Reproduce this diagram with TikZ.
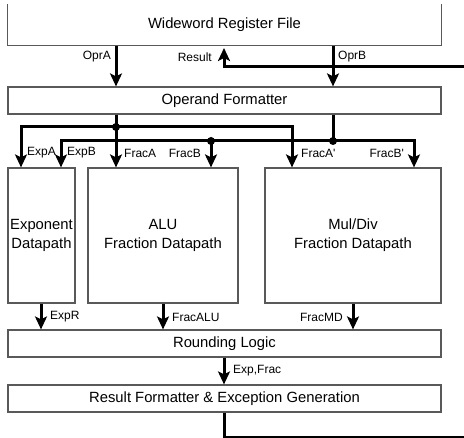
\documentclass[tikz,border=0pt]{standalone}
\usepackage{fontspec}
\setmainfont{Liberation Sans}
\usetikzlibrary{arrows.meta}
\tikzset{
	% Boxes of the datapath, thick buses and their labels
	block/.style={draw=black!65,line width=1.2pt,inner sep=0pt,align=center,font=\fontsize{14.8}{19}\selectfont},
	frame/.style={draw=black!65,line width=1.2pt},
	bus/.style={line width=3pt},
	to box/.style={bus,-{Stealth[length=13pt,width=12pt,inset=3pt]}},
	sig/.style={inner sep=0pt,font=\fontsize{12}{14}\selectfont},
	junction/.style={circle,fill=black,inner sep=0pt,minimum size=8pt}
}
\begin{document}
\begin{tikzpicture}[x=1pt,y=-1pt]
	% macro for the bus labels
	\newcommand{\wirelabel}[4][west]{\node[sig,anchor=#1](#2)at(#3){#4};}
	\useasboundingbox (0,0) rectangle (464,438);
	
	% columns and rows of the buses
	\coordinate (colA) at (116,0);
	\coordinate (colB) at (333,0);
	\coordinate (colR) at (224,0);
	\coordinate (colEA) at (21,0);
	\coordinate (colEB) at (61,0);
	\coordinate (colFB) at (211,0);
	\coordinate (colFA2) at (292,0);
	\coordinate (colFB2) at (414,0);
	\coordinate (rowA) at (0,127);
	\coordinate (rowB) at (0,141);
	\coordinate (resTip) at (224,48);
	\coordinate (retIn) at (464,67);
	\coordinate (retOut) at (464,437.5);
	
	% blocks
	\node[block,draw=none,minimum width=433pt,minimum height=40pt] (reg) at (224.5,25) {Wideword Register File};
	\draw[frame] (reg.north west) |- (reg.south east) -- (reg.north east);
	\node[block,minimum width=433pt,minimum height=27pt] (opf) at (224.5,100.5) {Operand Formatter};
	\node[block,minimum width=67pt,minimum height=135pt] (exp) at (41.5,235.5) {Exponent\\Datapath};
	\node[block,minimum width=150pt,minimum height=135pt] (alu) at (163,235.5) {ALU\\Fraction Datapath};
	\node[block,minimum width=176pt,minimum height=135pt] (md) at (353,235.5) {Mul/Div\\Fraction Datapath};
	\node[block,minimum width=433pt,minimum height=27pt] (rnd) at (224.5,343.5) {Rounding Logic};
	\node[block,minimum width=433pt,minimum height=27pt] (rfm) at (224.5,398.5) {Result Formatter \& Exception Generation};
	
	% register file to operand formatter
	\draw[to box] (reg.south -| colA) -- (opf.north -| colA);
	\draw[to box] (reg.south -| colB) -- (opf.north -| colB);
	\draw[to box] (retIn) -| (resTip);
	\wirelabel[east]{lOprA}{111,57}{OprA}
	\wirelabel[east]{lRes}{212,57}{Result}
	\wirelabel{lOprB}{338,57}{OprB}
	
	% operand A bus
	\draw[to box] (opf.south -| colA) -- (alu.north -| colA);
	\draw[to box] (colA |- rowA) -- (colEA |- rowA) -- (exp.north -| colEA);
	\draw[to box] (colA |- rowA) -- (colFA2 |- rowA) -- (md.north -| colFA2);
	\node[junction] (jA) at (colA |- rowA) {};
	
	% operand B bus
	\draw[bus] (opf.south -| colB) -- (colB |- rowB);
	\draw[to box] (colB |- rowB) -- (colEB |- rowB) -- (exp.north -| colEB);
	\draw[to box] (colB |- rowB) -- (colFB2 |- rowB) -- (md.north -| colFB2);
	\draw[to box] (colFB |- rowB) -- (alu.north -| colFB);
	\node[junction] (jB) at (colB |- rowB) {};
	\node[junction] (jFB) at (colFB |- rowB) {};
	
	\wirelabel{lExpA}{27,153}{ExpA}
	\wirelabel{lExpB}{67,153}{ExpB}
	\wirelabel{lFracA}{124,153}{FracA}
	\wirelabel[east]{lFracB}{201,153}{FracB}
	\wirelabel{lFracA2}{301,153}{FracA\textquotesingle}
	\wirelabel[east]{lFracB2}{404,153}{FracB\textquotesingle}
	
	% datapaths to rounding
	\draw[to box] (exp.south -| 41,0) -- (rnd.north -| 41,0);
	\draw[to box] (alu.south) -- (rnd.north -| alu.south);
	\draw[to box] (md.south) -- (rnd.north -| md.south);
	\wirelabel{lExpR}{50,317}{ExpR}
	\wirelabel{lFracALU}{172,317}{FracALU}
	\wirelabel[east]{lFracMD}{343,317}{FracMD}
	
	% rounding to result formatter and back
	\draw[to box] (rnd.south -| colR) -- (rfm.north -| colR);
	\wirelabel{lExpFrac}{233,371}{Exp,Frac}
	\draw[bus] (rfm.south -| colR) |- (retOut);
\end{tikzpicture}
\end{document}
